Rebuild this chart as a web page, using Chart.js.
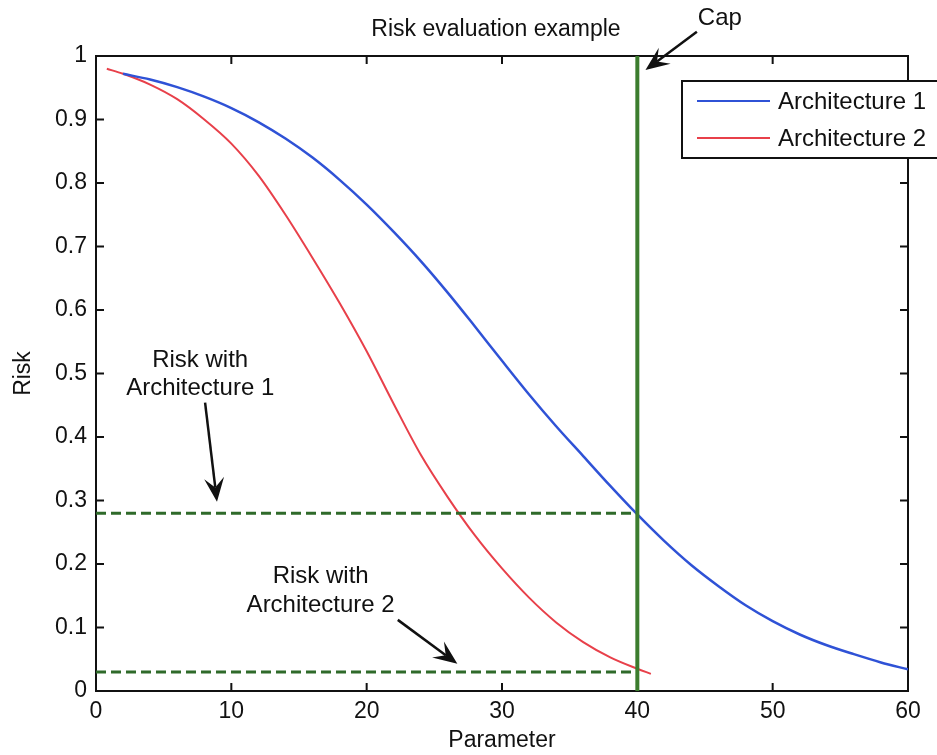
<!DOCTYPE html>
<html>
<head>
<meta charset="utf-8">
<title>Risk evaluation example</title>
<script src="https://cdn.jsdelivr.net/npm/chart.js@4.4.1/dist/chart.umd.min.js"></script>
<style>
  html, body { margin: 0; padding: 0; background: #fff; }
  #wrap { width: 937px; height: 755px; }
</style>
</head>
<body>
<div id="wrap"><canvas id="canvasRisk" width="937" height="755"></canvas></div>
<script>
// values
var paramArch1 = [2, 4, 6, 8, 10, 12, 14, 16, 18, 20, 22, 24, 26, 28, 30,
                  32, 34, 36, 38, 40, 42, 44, 46, 48, 50, 52, 54, 56, 58, 60];
var riskArch1  = [0.972, 0.963, 0.951, 0.936, 0.918, 0.896, 0.870, 0.840, 0.805, 0.766,
                  0.723, 0.677, 0.627, 0.574, 0.520, 0.467, 0.417, 0.370, 0.323, 0.278,
                  0.236, 0.198, 0.165, 0.135, 0.110, 0.089, 0.072, 0.058, 0.045, 0.034];

var paramArch2 = [0.8, 2, 4, 6, 8, 10, 12, 14, 16, 18, 20, 22,
                  24, 26, 28, 30, 32, 34, 36, 38, 40, 41];
var riskArch2  = [0.980, 0.972, 0.955, 0.932, 0.900, 0.862, 0.812, 0.750, 0.682, 0.611, 0.535, 0.452,
                  0.372, 0.305, 0.245, 0.193, 0.147, 0.108, 0.077, 0.053, 0.035, 0.027];

// cap and the risk levels read at the cap
var capParam   = [40, 40];
var capRisk    = [0, 1];
var levelParam = [0, 40];
var levelArch1 = [0.28, 0.28];
var levelArch2 = [0.03, 0.03];

var xTickValues = [0, 10, 20, 30, 40, 50, 60];
var yTickValues = [0, 0.1, 0.2, 0.3, 0.4, 0.5, 0.6, 0.7, 0.8, 0.9, 1];

var FONT = "'Liberation Sans', Arial, Helvetica, sans-serif";
var INK = '#111';

function pts(xs, ys) {
  return xs.map(function (x, i) { return { x: x, y: ys[i] }; });
}

// text + arrow annotations, in data units
var notes = [
  { lines: ['Risk with', 'Architecture 1'], x: 7.7, y: [0.521, 0.476], from: [8.06, 0.454], to: [8.94, 0.298] },
  { lines: ['Risk with', 'Architecture 2'], x: 16.6, y: [0.181, 0.135], from: [22.3, 0.112], to: [26.7, 0.043] },
  { lines: ['Cap'], x: 46.1, y: [1.06], from: [44.4, 1.038], to: [40.6, 0.978] }
];

function drawArrow(c, x1, y1, x2, y2) {
  var a = Math.atan2(y2 - y1, x2 - x1);
  var ca = Math.cos(a), sa = Math.sin(a);
  var L = 24, W = 10;
  c.save();
  c.strokeStyle = INK;
  c.fillStyle = INK;
  c.lineWidth = 2.5;
  c.beginPath();
  c.moveTo(x1, y1);
  c.lineTo(x2 - ca * L * 0.6, y2 - sa * L * 0.6);
  c.stroke();
  c.beginPath();
  c.moveTo(x2, y2);
  c.lineTo(x2 - ca * L - sa * W, y2 - sa * L + ca * W);
  c.lineTo(x2 - ca * L * 0.6, y2 - sa * L * 0.6);
  c.lineTo(x2 - ca * L + sa * W, y2 - sa * L - ca * W);
  c.closePath();
  c.fill();
  c.restore();
}

// box round the plot with inward tick marks (matlab style)
var framePlugin = {
  id: 'frame',
  beforeDatasetsDraw: function (chart) {
    var c = chart.ctx, a = chart.chartArea;
    var xs = chart.scales.x, ys = chart.scales.y;
    c.save();
    c.strokeStyle = INK;
    c.lineWidth = 2;
    c.strokeRect(a.left, a.top, a.right - a.left, a.bottom - a.top);
    c.beginPath();
    xTickValues.forEach(function (v) {
      var p = xs.getPixelForValue(v);
      c.moveTo(p, a.bottom); c.lineTo(p, a.bottom - 8);
      c.moveTo(p, a.top); c.lineTo(p, a.top + 8);
    });
    yTickValues.forEach(function (v) {
      var p = ys.getPixelForValue(v);
      c.moveTo(a.left, p); c.lineTo(a.left + 8, p);
      c.moveTo(a.right, p); c.lineTo(a.right - 8, p);
    });
    c.stroke();
    c.restore();
  }
};

// title, legend box and annotations
var extrasPlugin = {
  id: 'extras',
  afterDraw: function (chart) {
    var c = chart.ctx, a = chart.chartArea;
    var xs = chart.scales.x, ys = chart.scales.y;
    c.save();

    c.fillStyle = INK;
    c.font = '23px ' + FONT;
    c.textAlign = 'center';
    c.textBaseline = 'middle';
    c.fillText('Risk evaluation example', (a.left + a.right) / 2 - 6, 30);

    notes.forEach(function (n) {
      c.font = '24px ' + FONT;
      c.fillStyle = INK;
      c.textAlign = 'center';
      c.textBaseline = 'middle';
      n.lines.forEach(function (t, i) {
        c.fillText(t, xs.getPixelForValue(n.x), ys.getPixelForValue(n.y[i]));
      });
      drawArrow(c, xs.getPixelForValue(n.from[0]), ys.getPixelForValue(n.from[1]),
                   xs.getPixelForValue(n.to[0]), ys.getPixelForValue(n.to[1]));
    });

    // legend
    var lx = a.right - 226, ly = a.top + 25;
    c.fillStyle = '#fff';
    c.fillRect(lx, ly, 270, 77);
    c.strokeStyle = INK;
    c.lineWidth = 2;
    c.strokeRect(lx, ly, 270, 77);
    c.font = '24px ' + FONT;
    c.textAlign = 'left';
    c.textBaseline = 'middle';
    [0, 1].forEach(function (i) {
      var ds = chart.data.datasets[i];
      var y = ly + 20 + i * 37;
      c.strokeStyle = ds.borderColor;
      c.lineWidth = 2;
      c.beginPath();
      c.moveTo(lx + 15, y); c.lineTo(lx + 88, y);
      c.stroke();
      c.fillStyle = INK;
      c.fillText(ds.label, lx + 96, y + 1);
    });
    c.restore();
  }
};

var ctx = document.getElementById('canvasRisk').getContext('2d');
var riskChart = new Chart(ctx, {
  type: 'line',
  data: {
    datasets: [
      {
        label: 'Architecture 1',
        data: pts(paramArch1, riskArch1),
        borderColor: '#2f52d6',
        borderWidth: 2.5,
        pointRadius: 0,
        cubicInterpolationMode: 'monotone',
        order: 3
      },
      {
        label: 'Architecture 2',
        data: pts(paramArch2, riskArch2),
        borderColor: '#e8404a',
        borderWidth: 2,
        pointRadius: 0,
        cubicInterpolationMode: 'monotone',
        order: 4
      },
      {
        label: 'Cap',
        data: pts(capParam, capRisk),
        borderColor: '#3c7d2e',
        borderWidth: 4,
        pointRadius: 0,
        order: 1
      },
      {
        label: 'Risk with Architecture 1',
        data: pts(levelParam, levelArch1),
        borderColor: '#2f6a2a',
        borderWidth: 3,
        borderDash: [10, 5],
        pointRadius: 0,
        order: 2
      },
      {
        label: 'Risk with Architecture 2',
        data: pts(levelParam, levelArch2),
        borderColor: '#2f6a2a',
        borderWidth: 3,
        borderDash: [10, 5],
        pointRadius: 0,
        order: 2
      }
    ]
  },
  options: {
    responsive: false,
    animation: false,
    layout: { padding: { left: 0, right: 29, top: 56, bottom: 0 } },
    plugins: {
      legend: { display: false },
      title: { display: false },
      tooltip: { enabled: false }
    },
    scales: {
      x: {
        type: 'linear',
        min: 0,
        max: 60,
        afterBuildTicks: function (s) { s.ticks = xTickValues.map(function (v) { return { value: v }; }); },
        afterFit: function (s) { s.height = 64; },
        grid: { display: false, drawTicks: false },
        border: { display: false },
        ticks: { padding: 7, color: INK, font: { family: FONT, size: 23 }, maxRotation: 0 },
        title: { display: true, text: 'Parameter', color: INK, font: { family: FONT, size: 23 }, padding: { top: 0, bottom: 1 } }
      },
      y: {
        type: 'linear',
        min: 0,
        max: 1,
        afterBuildTicks: function (s) { s.ticks = yTickValues.map(function (v) { return { value: v }; }); },
        afterFit: function (s) { s.width = 96; },
        grid: { display: false, drawTicks: false },
        border: { display: false },
        ticks: {
          padding: 9, color: INK, font: { family: FONT, size: 23 },
          callback: function (v) { return String(Math.round(v * 10) / 10); }
        },
        title: { display: true, text: 'Risk', color: INK, font: { family: FONT, size: 23 }, padding: { top: 10, bottom: 0 } }
      }
    }
  },
  plugins: [framePlugin, extrasPlugin]
});
</script>
</body>
</html>
